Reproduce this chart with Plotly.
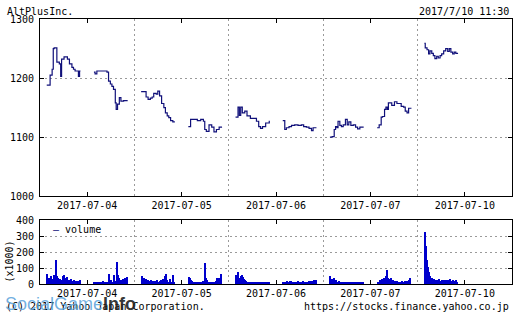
import plotly.graph_objects as go

# ---------------- data ----------------
days = ["2017-07-04", "2017-07-05", "2017-07-06", "2017-07-07", "2017-07-10"]
price_ticks = [1000, 1100, 1200, 1300]
vol_ticks = [0, 100, 200, 300, 400]

t_0704_am = ["9:00", "9:15", "9:24", "9:29", "9:33", "9:45", "9:56", "10:02", "10:06", "10:17", "10:32", "10:41", "10:52", "10:59", "11:06", "11:21", "11:26", "11:30"]
p_0704_am = [1188, 1205, 1215, 1250, 1251, 1227, 1224, 1203, 1232, 1236, 1232, 1224, 1218, 1215, 1212, 1203, 1212, 1212]
t_0704_pm = ["12:30", "12:35", "12:43", "13:28", "13:35", "13:43", "13:50", "13:57", "14:05", "14:09", "14:15", "14:23", "14:30", "14:42", "15:00"]
p_0704_pm = [1210, 1207, 1212, 1210, 1195, 1190, 1186, 1181, 1158, 1147, 1156, 1167, 1161, 1162, 1162]

t_0705_am = ["9:00", "9:22", "9:31", "9:41", "9:49", "9:56", "10:07", "10:14", "10:22", "10:31", "10:41", "10:48", "10:56", "11:03", "11:11", "11:21", "11:30"]
p_0705_am = [1177, 1168, 1164, 1166, 1168, 1174, 1173, 1178, 1170, 1157, 1150, 1141, 1136, 1133, 1128, 1126, 1126]
t_0705_pm = ["12:30", "12:40", "13:10", "13:25", "13:37", "13:43", "13:50", "14:02", "14:14", "14:24", "14:35", "14:47", "15:00"]
p_0705_pm = [1118, 1130, 1128, 1130, 1127, 1113, 1110, 1121, 1117, 1109, 1113, 1117, 1117]

t_0706_am = ["9:00", "9:11", "9:17", "9:23", "9:30", "9:41", "9:51", "10:06", "10:33", "10:43", "10:51", "11:00", "11:14", "11:30"]
p_0706_am = [1134, 1151, 1137, 1151, 1141, 1144, 1136, 1132, 1127, 1118, 1115, 1118, 1124, 1128]
t_0706_pm = ["12:30", "12:39", "12:46", "12:58", "13:09", "13:23", "13:38", "13:53", "14:03", "14:15", "14:27", "14:38", "14:45", "15:00"]
p_0706_pm = [1128, 1113, 1116, 1118, 1120, 1121, 1120, 1121, 1118, 1117, 1115, 1111, 1116, 1116]

t_0707_am = ["9:00", "9:10", "9:19", "9:25", "9:31", "9:36", "9:44", "9:51", "9:59", "10:09", "10:17", "10:24", "10:33", "10:44", "10:54", "11:03", "11:13", "11:30"]
p_0707_am = [1100, 1101, 1113, 1118, 1116, 1127, 1120, 1118, 1121, 1130, 1121, 1126, 1120, 1121, 1117, 1114, 1117, 1117]
t_0707_pm = ["12:30", "12:39", "12:48", "12:54", "13:03", "13:09", "13:15", "13:20", "13:35", "13:47", "13:58", "14:17", "14:28", "14:35", "14:43", "14:50", "15:00"]
p_0707_pm = [1116, 1121, 1134, 1135, 1147, 1151, 1147, 1158, 1154, 1160, 1157, 1152, 1151, 1144, 1141, 1149, 1150]

t_0710_am = ["9:00", "9:04", "9:12", "9:19", "9:25", "9:33", "9:40", "9:47", "9:55", "10:02", "10:10", "10:17", "10:26", "10:35", "10:44", "10:51", "10:58", "11:06", "11:13", "11:20", "11:30"]
p_0710_am = [1259, 1251, 1248, 1241, 1246, 1242, 1238, 1233, 1237, 1234, 1238, 1241, 1246, 1250, 1245, 1250, 1244, 1241, 1244, 1242, 1242]

# volume (x1000), 5-minute bars from session start
v_0704_am = [62, 40, 37, 48, 30, 33, 58, 25, 152, 48, 40, 30, 27, 20, 48, 54, 30, 37, 42, 22, 27, 33, 20, 18, 22, 15, 20, 18, 15, 22]
v_0704_pm = [15, 12, 14, 10, 12, 14, 10, 12, 18, 14, 12, 10, 15, 62, 20, 27, 15, 58, 20, 15, 135, 58, 35, 28, 25, 30, 20, 35, 18, 42]
v_0705_am = [48, 30, 35, 25, 30, 22, 27, 20, 25, 18, 15, 20, 15, 18, 22, 15, 20, 25, 18, 30, 20, 48, 62, 25, 15, 30, 12, 15, 58, 12]
v_0705_pm = [42, 35, 28, 20, 15, 12, 15, 10, 12, 15, 12, 10, 14, 20, 132, 35, 25, 15, 12, 10, 14, 12, 10, 15, 18, 38, 15, 40, 20, 62]
v_0706_am = [58, 42, 73, 40, 50, 58, 45, 30, 25, 20, 15, 12, 14, 12, 10, 8, 12, 10, 14, 10, 8, 12, 10, 8, 10, 12, 8, 10, 12, 10]
v_0706_pm = [12, 15, 10, 18, 14, 12, 16, 20, 15, 12, 10, 14, 12, 18, 15, 10, 12, 14, 16, 12, 10, 15, 12, 18, 14, 20, 16, 22, 18, 25]
v_0707_am = [52, 30, 25, 40, 22, 28, 15, 12, 20, 15, 10, 12, 8, 10, 12, 10, 8, 10, 12, 8, 10, 8, 12, 10, 8, 10, 12, 8, 10, 10]
v_0707_pm = [10, 15, 25, 20, 32, 25, 40, 49, 88, 40, 30, 28, 35, 22, 25, 16, 14, 16, 12, 15, 14, 12, 16, 14, 18, 15, 20, 18, 25, 35]
v_0710_am = [323, 240, 150, 108, 77, 47, 38, 32, 30, 25, 28, 22, 25, 30, 20, 25, 22, 28, 20, 25, 18, 22, 30, 20, 15, 22, 18, 20, 25, 15]

# ---------------- helpers ----------------
DAY_START = 8 * 60 + 30   # each day slot spans 8:30 .. 15:30
DAY_LEN = 420
BAR_MIN = 5

def mins(s):
    h, m = s.split(":")
    return int(h) * 60 + int(m)

def xpos(day, minute):
    return day + (minute - DAY_START) / DAY_LEN

price_sessions = [
    (0, t_0704_am, p_0704_am), (0, t_0704_pm, p_0704_pm),
    (1, t_0705_am, p_0705_am), (1, t_0705_pm, p_0705_pm),
    (2, t_0706_am, p_0706_am), (2, t_0706_pm, p_0706_pm),
    (3, t_0707_am, p_0707_am), (3, t_0707_pm, p_0707_pm),
    (4, t_0710_am, p_0710_am),
]
vol_sessions = [
    (0, "9:00", v_0704_am), (0, "12:30", v_0704_pm),
    (1, "9:00", v_0705_am), (1, "12:30", v_0705_pm),
    (2, "9:00", v_0706_am), (2, "12:30", v_0706_pm),
    (3, "9:00", v_0707_am), (3, "12:30", v_0707_pm),
    (4, "9:00", v_0710_am),
]

px, py = [], []
for d, ts, ps in price_sessions:
    px += [xpos(d, mins(t)) for t in ts] + [None]
    py += list(ps) + [None]

vx, vy = [], []
for d, start, vs in vol_sessions:
    s = mins(start)
    for i, v in enumerate(vs):
        vx.append(xpos(d, s + BAR_MIN * i + BAR_MIN / 2))
        vy.append(v)

# ---------------- figure ----------------
FONT = "DejaVu Sans Mono"
NAVY = "#10107a"
BLUE = "#0000cc"
GRID = "#9a9a9a"
DASH = "2px,3px"

fig = go.Figure()
fig.add_trace(go.Scatter(x=px, y=py, mode="lines", line=dict(color=NAVY, width=1.2, shape="hv"),
                         connectgaps=False, showlegend=False, xaxis="x", yaxis="y"))
fig.add_trace(go.Bar(x=vx, y=vy, width=BAR_MIN / DAY_LEN, marker=dict(color=BLUE, line=dict(width=0)),
                     showlegend=False, xaxis="x2", yaxis="y2"))

W, H = 518, 316
ML, MR, MT, MB = 40, 6, 19, 32
PW, PH = W - ML - MR, H - MT - MB

def pyf(pix):  # pixel y -> paper y
    return (H - MB - pix) / PH

def pxf(pix):
    return (pix - ML) / PW

xcommon = dict(range=[0, len(days)], tickvals=[i + 0.5 for i in range(len(days))], ticktext=days,
               ticks="inside", ticklen=4, tickcolor="black", showline=True, linecolor="black", linewidth=1,
               mirror="ticks", showgrid=False, zeroline=False, fixedrange=True,
               minor=dict(tick0=0, dtick=1, showgrid=True, gridcolor=GRID, griddash=DASH, gridwidth=1, ticks=""),
               tickfont=dict(family=FONT, size=10, color="black"))
ycommon = dict(ticks="inside", ticklen=4, tickcolor="black", showline=True, linecolor="black", linewidth=1,
               mirror="ticks", showgrid=True, gridcolor=GRID, griddash=DASH, gridwidth=1, zeroline=False,
               tickfont=dict(family=FONT, size=10, color="black"), ticklabelstandoff=3)

fig.update_layout(
    width=W, height=H, margin=dict(l=ML, r=MR, t=MT, b=MB),
    paper_bgcolor="white", plot_bgcolor="white", bargap=0,
    font=dict(family=FONT, size=10, color="black"),
    xaxis=dict(domain=[0, 1], anchor="y", **xcommon),
    yaxis=dict(domain=[pyf(196.3), 1], range=[price_ticks[0], price_ticks[-1]], tickvals=price_ticks, anchor="x", **ycommon),
    xaxis2=dict(domain=[0, 1], anchor="y2", **xcommon),
    yaxis2=dict(domain=[0, pyf(220)], range=[vol_ticks[0], vol_ticks[-1]], tickvals=vol_ticks, anchor="x2", **ycommon),
)

ann = [
    dict(text="AltPlusInc.", x=pxf(5), y=pyf(11.5), xanchor="left", yanchor="middle"),
    dict(text="2017/7/10 11:30", x=pxf(511), y=pyf(11.5), xanchor="right", yanchor="middle"),
    dict(text="(x1000)", x=pxf(8.5), y=pyf(262), xanchor="center", yanchor="middle", textangle=-90),
    dict(text="<span style='color:%s'>—</span> volume" % NAVY, x=pxf(51), y=pyf(229.5), xanchor="left", yanchor="middle"),
    dict(text="(C) 2017 Yahoo Japan Corporation.", x=pxf(4), y=pyf(306.5), xanchor="left", yanchor="middle"),
    dict(text="https://stocks.finance.yahoo.co.jp", x=pxf(511), y=pyf(306.5), xanchor="right", yanchor="middle"),
]
for a in ann:
    fig.add_annotation(xref="paper", yref="paper", showarrow=False,
                       font=dict(family=FONT, size=10, color="black"), **a)

# watermark overlay (as in the reference image)
fig.add_annotation(xref="paper", yref="paper", showarrow=False, x=pxf(3), y=pyf(303.5), xanchor="left", yanchor="middle",
                   text="<span style='color:rgba(95,165,220,0.88)'>SocialGame</span><b style='color:rgba(35,35,35,0.92)'>Info</b>",
                   font=dict(family="Liberation Sans", size=18))

fig.write_html("out.html")
